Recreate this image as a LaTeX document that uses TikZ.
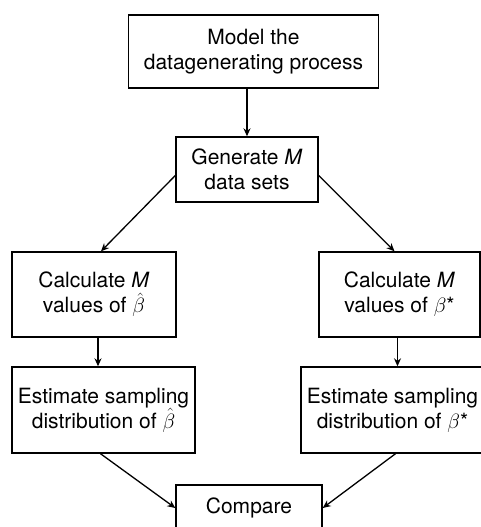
\documentclass[tikz,border=0pt]{standalone}
\usepackage{fontspec}
\setmainfont{TeX Gyre Heros}
\usepackage{tikz}
\usetikzlibrary{arrows.meta, positioning, calc}

\begin{document}
\begin{tikzpicture}[
    x=1pt, y=-1pt,
    box/.style={rectangle, draw=black, line width=1.4pt, fill=white, inner sep=0pt,
                font=\fontsize{21}{25}\selectfont, align=center},
    arrow/.style={-{Stealth[length=8pt, width=7pt]}, line width=1.3pt}
]
\useasboundingbox (0,0) rectangle (480,527);

\node[box, minimum width=250, minimum height=73] (model) at (253.5,51.5) {Model the\\datagenerating process};
\node[box, minimum width=142, minimum height=65] (gen) at (247,169.5) {Generate \textit{M}\\data sets};

\node[box, minimum width=164, minimum height=85] (calcl) at (94,294.5) {Calculate \textit{M}\\values of $\hat{\beta}$};
\node[box, minimum width=161, minimum height=85] (calcr) at (399.5,294.5) {Calculate \textit{M}\\values of $\beta$*};

\node[box, minimum width=183, minimum height=86] (estl) at (103.5,410) {Estimate sampling\\distribution of $\hat{\beta}$};
\node[box, minimum width=183, minimum height=86] (estr) at (392.5,410) {Estimate sampling\\distribution of $\beta$*};

\node[box, minimum width=146, minimum height=46] (comp) at (249,508) {Compare};

\draw[arrow] (model.south -| gen.north) -- (gen.north);
\draw[arrow] ($(gen.west)+(0,6)$) -- ($(calcl.north)+(7,0)$);
\draw[arrow] ($(gen.east)+(0,6)$) -- ($(calcr.north)+(-5,0)$);
\draw[arrow] (calcl.south) ++(4,0) coordinate (cl) -- (cl |- estl.north);
\draw[arrow] (calcr.south) ++(-2,0) coordinate (cr) -- (cr |- estr.north);
\draw[arrow] ($(estl.south)+(-3,0)$) -- (comp.west);
\draw[arrow] ($(estr.south)+(3,0)$) -- (comp.east);

\end{tikzpicture}
\end{document}
